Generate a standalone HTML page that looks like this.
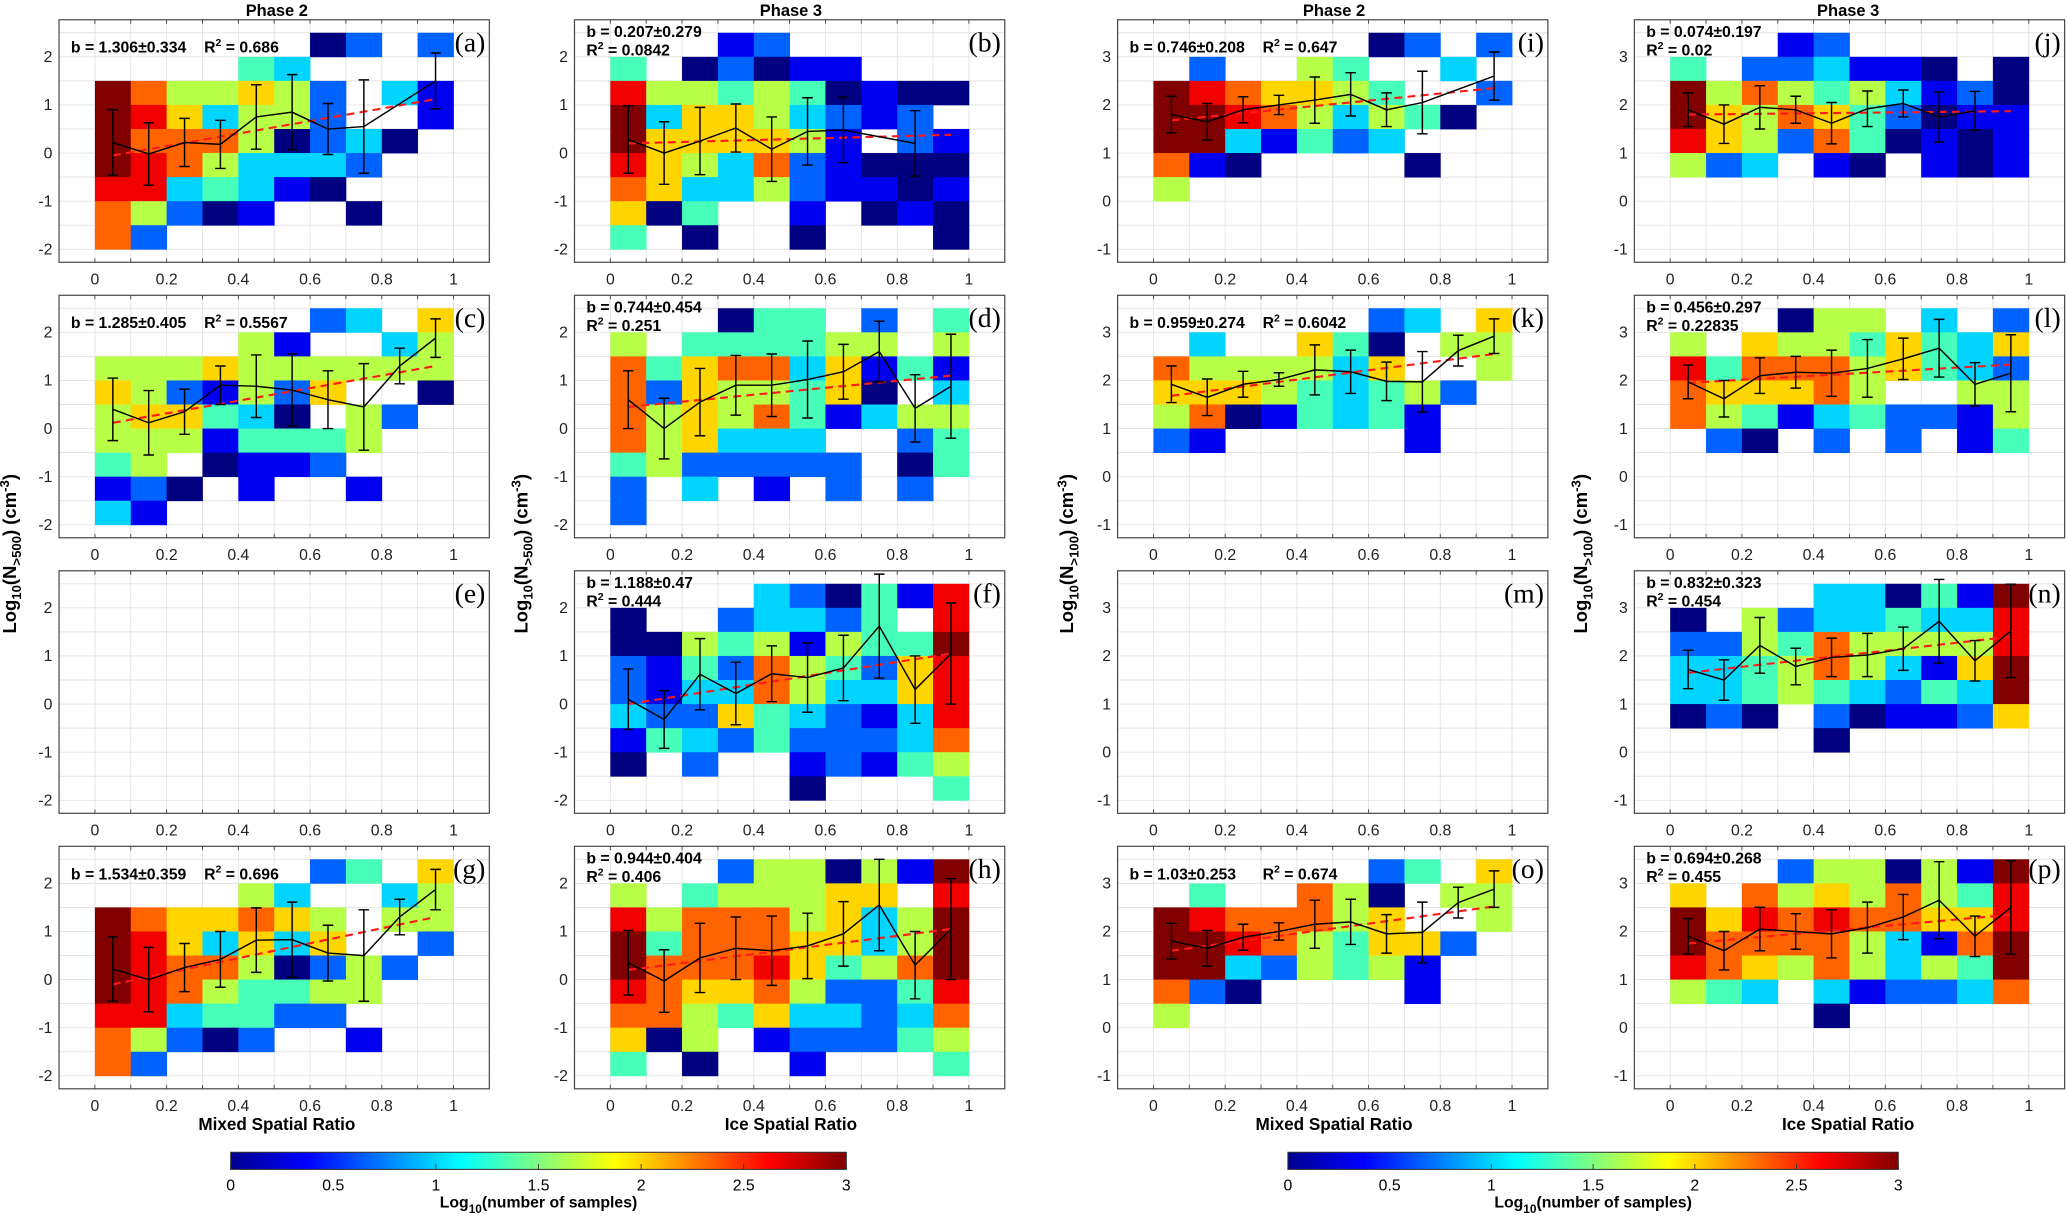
<!DOCTYPE html>
<html><head><meta charset="utf-8"><title>Heatmap panels</title>
<style>
html,body{margin:0;padding:0;background:#fff;}
svg{display:block;}
text{font-family:"Liberation Sans Narrow","Liberation Sans",sans-serif;}
</style></head>
<body>
<svg id="fig" width="2067" height="1217" viewBox="0 0 1568 923" xmlns="http://www.w3.org/2000/svg">
<defs>
<linearGradient id="jet" x1="0" x2="1" y1="0" y2="0">
<stop offset="0" stop-color="#00008f"/><stop offset="0.125" stop-color="#0000ff"/><stop offset="0.375" stop-color="#00ffff"/><stop offset="0.625" stop-color="#ffff00"/><stop offset="0.875" stop-color="#ff0000"/><stop offset="1" stop-color="#800000"/>
</linearGradient>
</defs>
</svg>
<script>
// ---- data: grids (top row first; digit d => log10 count = d/3; '.' = empty) ----
const xCenters=[0.05,0.15,0.25,0.35,0.45,0.55,0.65,0.75,0.85,0.95];
const yTicksLeft=[-2,-1,0,1,2];
const yTicksRight=[-1,0,1,2,3];
const xTicks=[0,0.2,0.4,0.6,0.8,1];
const cbTicks=[0,0.5,1,1.5,2,2.5,3];

const gridA=["......02.2","....43....","9755652.31","9863552..1","977750230.","98753332..","8834310...","75201..0..","72........"];
const meanA=[0.22,-0.02,0.22,0.18,0.75,0.85,0.5,0.55,null,1.5];
const errA=[0.68,0.65,0.5,0.5,0.67,0.78,0.53,0.97,null,0.58];
const fitA=[-0.05,1.12];

const gridB=["...12.....","4.02011...","8554540100","936653212.","9666651.21","8653721000","7633521101","604..1.010","4.0..0...0"];
const meanB=[0.28,0.0,0.25,0.52,0.08,0.45,0.48,null,0.2,null];
const errB=[0.7,0.65,0.7,0.5,0.67,0.7,0.68,null,0.68,null];
const fitB=[0.2,0.38];

const gridC=["......23.6","....51..35","5556555555","6521526..0","566430.52.","55514445..","45.0112...","120.1..1..","31........"];
const meanC=[0.4,0.12,0.35,0.9,0.88,0.8,0.6,0.45,1.3,1.88];
const errC=[0.65,0.67,0.47,0.4,0.65,0.75,0.6,0.9,0.37,0.4];
const fitC=[0.12,1.3];

const gridD=["...044.2.4","5.444455.5","7467736141","72655460.3","7565741355","756333..24","4522222.04","2.3.1.2.2.","2........."];
const meanD=[0.6,0.0,0.55,0.9,0.9,1.02,1.18,1.6,0.42,0.88];
const errD=[0.6,0.63,0.7,0.62,0.65,0.8,0.57,0.63,0.7,1.08];
const fitD=[0.45,1.1];

const gridF=["....320418","0..23324.8","0054515449","2142754268","2133753368","3226432138","1432422237","0.2..12145",".....0...4"];
const meanF=[0.1,-0.32,0.62,0.22,0.63,0.55,0.75,1.62,0.3,1.05];
const errF=[0.63,0.6,0.74,0.65,0.58,0.72,0.68,1.08,0.7,1.05];
const fitF=[0.0,1.05];

const gridG=["......24.6","....53..35","9766765.55","9863636..2","987750252.","98754455..","8834422...","75202..1..","72........"];
const meanG=[0.22,0.0,0.25,0.42,0.82,0.83,0.55,0.5,1.3,1.87];
const errG=[0.67,0.67,0.5,0.58,0.67,0.78,0.58,0.95,0.37,0.42];
const fitG=[-0.1,1.3];

const gridH=["...2550519","5.455566.8","8577756359","9477766359","9777864579","8766752248","7754633237","605.122245","4.0..1...4"];
const meanH=[0.35,-0.03,0.45,0.65,0.6,0.7,0.95,1.55,0.3,1.05];
const errH=[0.67,0.65,0.72,0.65,0.72,0.68,0.67,0.95,0.7,1.05];
const fitH=[0.2,1.05];

const gridI=["......02.2",".2..54..3.","9876654..2","998753540.","9931423...","710....0..","5........."];
const meanI=[1.8,1.65,1.9,2.0,2.1,2.22,1.9,2.05,null,2.6];
const errI=[0.38,0.38,0.27,0.2,0.48,0.45,0.35,0.65,null,0.5];
const fitI=[1.68,2.35];

const gridJ=["...12.....","4.223110.0","9575453120","9657642011","8652740101","523.10.101",".........."];
const meanJ=[1.9,1.6,1.95,1.9,1.62,1.92,2.03,1.75,1.88,null];
const errJ=[0.35,0.4,0.45,0.28,0.43,0.37,0.28,0.52,0.4,null];
const fitJ=[1.8,1.87];

const gridK=["......23.6",".3..640.55","7555536..5","666543452.","57014341..","21.....1..",".........."];
const meanK=[1.92,1.65,1.92,2.02,2.22,2.18,1.98,1.97,2.62,2.92];
const errK=[0.38,0.38,0.27,0.14,0.52,0.45,0.4,0.63,0.32,0.36];
const fitK=[1.68,2.55];

const gridL=["...055.3.2","5.65546436","8477756432","766675..55","7541342215",".20.2.2.14",".........."];
const meanL=[1.97,1.62,2.1,2.17,2.15,2.25,2.45,2.67,1.92,2.15];
const errL=[0.35,0.38,0.37,0.33,0.48,0.6,0.43,0.6,0.45,0.8];
const fitL=[1.95,2.33];

const gridN=["....330419","0.52334338","2254755558","3345753169","3345432439","020.201126","....0....."];
const meanN=[1.72,1.5,2.22,1.78,1.97,2.02,2.15,2.72,1.9,2.52];
const errN=[0.4,0.42,0.58,0.38,0.4,0.45,0.45,0.87,0.42,0.97];
const fitN=[1.65,2.4];

const gridO=["......24.6",".4..750.55","9877756..5","998754662.","99325451..","720....1..","5........."];
const meanO=[1.8,1.65,1.88,2.0,2.15,2.2,1.95,1.98,2.6,2.88];
const errO=[0.37,0.37,0.27,0.18,0.5,0.47,0.4,0.63,0.32,0.38];
const fitO=[1.6,2.52];

const gridP=["...2550519","6.75657548","9687877668","9777753179","8765753549","543.312237","....0....."];
const meanP=[1.9,1.6,2.05,2.0,1.95,2.08,2.3,2.65,1.9,2.5];
const errP=[0.37,0.4,0.45,0.37,0.5,0.53,0.47,0.8,0.42,0.97];
const fitP=[1.75,2.35];

const panels=[
 {id:'a',col:0,row:0,t:'L',g:gridA,m:meanA,e:errA,f:fitA,s1:'b = 1.306±0.334',s2:'0.686',two:false},
 {id:'b',col:1,row:0,t:'L',g:gridB,m:meanB,e:errB,f:fitB,s1:'b = 0.207±0.279',s2:'0.0842',two:true},
 {id:'c',col:0,row:1,t:'L',g:gridC,m:meanC,e:errC,f:fitC,s1:'b = 1.285±0.405',s2:'0.5567',two:false},
 {id:'d',col:1,row:1,t:'L',g:gridD,m:meanD,e:errD,f:fitD,s1:'b = 0.744±0.454',s2:'0.251',two:true},
 {id:'e',col:0,row:2,t:'L',g:null},
 {id:'f',col:1,row:2,t:'L',g:gridF,m:meanF,e:errF,f:fitF,s1:'b = 1.188±0.47',s2:'0.444',two:true},
 {id:'g',col:0,row:3,t:'L',g:gridG,m:meanG,e:errG,f:fitG,s1:'b = 1.534±0.359',s2:'0.696',two:false},
 {id:'h',col:1,row:3,t:'L',g:gridH,m:meanH,e:errH,f:fitH,s1:'b = 0.944±0.404',s2:'0.406',two:true},
 {id:'i',col:2,row:0,t:'R',g:gridI,m:meanI,e:errI,f:fitI,s1:'b = 0.746±0.208',s2:'0.647',two:false},
 {id:'j',col:3,row:0,t:'R',g:gridJ,m:meanJ,e:errJ,f:fitJ,s1:'b = 0.074±0.197',s2:'0.02',two:true},
 {id:'k',col:2,row:1,t:'R',g:gridK,m:meanK,e:errK,f:fitK,s1:'b = 0.959±0.274',s2:'0.6042',two:false},
 {id:'l',col:3,row:1,t:'R',g:gridL,m:meanL,e:errL,f:fitL,s1:'b = 0.456±0.297',s2:'0.22835',two:true},
 {id:'m',col:2,row:2,t:'R',g:null},
 {id:'n',col:3,row:2,t:'R',g:gridN,m:meanN,e:errN,f:fitN,s1:'b = 0.832±0.323',s2:'0.454',two:true},
 {id:'o',col:2,row:3,t:'R',g:gridO,m:meanO,e:errO,f:fitO,s1:'b = 1.03±0.253',s2:'0.674',two:false},
 {id:'p',col:3,row:3,t:'R',g:gridP,m:meanP,e:errP,f:fitP,s1:'b = 0.694±0.268',s2:'0.455',two:true}
];

// ---- layout ----
const NS='http://www.w3.org/2000/svg';
const svg=document.getElementById('fig');
const colX0=[72,463,875,1267], rowRef=[43,252,461,670];
const UX=272, UY=36.5;
function mk(tag,attrs,parent){const e=document.createElementNS(NS,tag);for(const k in attrs)e.setAttribute(k,attrs[k]);parent.appendChild(e);return e;}
function jet(v){const t=Math.max(0,Math.min(1,v/3));const c=x=>Math.round(255*Math.max(0,Math.min(1,1.5-Math.abs(4*t-x))));return `rgb(${c(3)},${c(2)},${c(1)})`;}

panels.forEach(p=>{
  const ref=p.t==='L'?2:3, lo=p.t==='L'?-2.27:-1.27, hi=lo+5.04;
  const X=v=>colX0[p.col]+v*UX;
  const Y=v=>rowRef[p.row]-(v-ref)*UY;
  const L=X(-0.1),R=X(1.1),T=Y(hi),B=Y(lo);
  const g=mk('g',{},svg);
  
  
  for(let i=0;i<=10;i++){const l=mk('line',{x1:X(i/10),x2:X(i/10),y1:T,y2:B,stroke:'#e3e3e3','stroke-width':0.7},g);
    
    }
  for(let v=Math.ceil(lo*2)/2;v<=hi;v+=0.5){const l=mk('line',{x1:L,x2:R,y1:Y(v),y2:Y(v),stroke:'#e3e3e3','stroke-width':0.7},g);
    
    }
  if(p.g){
    const topV=p.t==='L'?2.5:3.5;
    p.g.forEach((rowStr,ri)=>{
      for(let ci=0;ci<rowStr.length;ci++){
        const ch=rowStr[ci]; if(ch==='.')continue;
        const v=(+ch)/3;
        const r=mk('rect',{x:X(ci/10),y:Y(topV-ri*0.5),width:UX/10+0.3,height:UY/2+0.3,fill:jet(v)},g);
        
        
      }
    });
    const fl=mk('line',{x1:X(0.05),y1:Y(p.f[0]),x2:X(0.95),y2:Y(p.f[1]),stroke:'#ff1a1a','stroke-width':1.6,'stroke-dasharray':'6,4'},g);
    
    
    let d='';
    p.m.forEach((v,i)=>{if(v===null)return;d+=(d?'L':'M')+X(xCenters[i]).toFixed(1)+','+Y(v).toFixed(1);});
    const ml=mk('path',{d:d,fill:'none',stroke:'#000','stroke-width':1.1},g);
    
    
    p.m.forEach((v,i)=>{if(v===null)return;
      const x=X(xCenters[i]),e=p.e[i];
      const eb=mk('path',{d:`M${x},${Y(v-e)}L${x},${Y(v+e)}M${x-4},${Y(v-e)}L${x+4},${Y(v-e)}M${x-4},${Y(v+e)}L${x+4},${Y(v+e)}`,stroke:'#000','stroke-width':1.1,fill:'none'},g);
      
      });
    const t1=mk('text',{x:L+9,y:p.two?T+13:T+25,'font-size':12,'font-weight':'bold'},g);
    
    
    t1.textContent=p.s1;
    const t2=mk('text',{x:p.two?L+9:L+110,y:p.two?T+27:T+25,'font-size':12,'font-weight':'bold'},g);
    
    
    t2.innerHTML='R<tspan dy="-5" font-size="8">2</tspan><tspan dy="5"> = '+p.s2+'</tspan>';
  }
  const bx=mk('rect',{x:L,y:T,width:R-L,height:B-T,fill:'none',stroke:'#444','stroke-width':0.9},g);
  
  
  for(let i=0;i<=10;i++){const tk=mk('path',{d:`M${X(i/10)},${B}v-3M${X(i/10)},${T}v3`,stroke:'#444','stroke-width':0.7},g);
    
    }
  xTicks.forEach(v=>{const t=mk('text',{x:X(v),y:B+17,'font-size':12,'text-anchor':'middle',fill:'#222'},g);
    
    
    t.textContent=String(v);});
  (p.t==='L'?yTicksLeft:yTicksRight).forEach(v=>{const t=mk('text',{x:L-5,y:Y(v)+4,'font-size':12,'text-anchor':'end',fill:'#222'},g);
    
    
    t.textContent=String(v);});
  const pl=mk('text',{x:R-3,y:T+24,'font-size':21,'text-anchor':'end'},g);
  
  
  pl.setAttribute('style','font-family:"Liberation Serif",serif');
  pl.textContent='('+p.id+')';
});

[['Phase 2',210],['Phase 3',600],['Phase 2',1012],['Phase 3',1402]].forEach(a=>{
  const t=mk('text',{x:a[1],y:12,'font-size':12.5,'font-weight':'bold','text-anchor':'middle'},svg);
  
  
  t.textContent=a[0];});
[['Mixed Spatial Ratio',210],['Ice Spatial Ratio',600],['Mixed Spatial Ratio',1012],['Ice Spatial Ratio',1402]].forEach(a=>{
  const t=mk('text',{x:a[1],y:857,'font-size':13,'font-weight':'bold','text-anchor':'middle'},svg);
  
  
  t.textContent=a[0];});
[[12,'>500'],[400,'>500'],[814,'>100'],[1204,'>100']].forEach(a=>{
  const t=mk('text',{x:0,y:0,'font-size':14,'font-weight':'bold','text-anchor':'middle',transform:`translate(${a[0]},420) rotate(-90)`,style:'font-family:"Liberation Sans",sans-serif'},svg);
  
  
  t.innerHTML='Log<tspan dy="4" font-size="10">10</tspan><tspan dy="-4">(N</tspan><tspan dy="4" font-size="10">'+a[1]+'</tspan><tspan dy="-4">) (cm</tspan><tspan dy="-5" font-size="10">-3</tspan><tspan dy="5">)</tspan>';});

[[175,642],[977,1440]].forEach(c=>{
  const g=mk('g',{},svg);
  
  
  const r=mk('rect',{x:c[0],y:874,width:c[1]-c[0],height:13,fill:'url(#jet)',stroke:'#333','stroke-width':0.8},g);
  
  
  cbTicks.forEach(v=>{const x=c[0]+(c[1]-c[0])*v/3;
    const tk=mk('line',{x1:x,x2:x,y1:887,y2:883,stroke:'#333','stroke-width':0.7},g);
    
    
    const t=mk('text',{x:x,y:903,'font-size':12,'text-anchor':'middle'},g);
    
    
    t.textContent=String(v);});
  const tt=mk('text',{x:(c[0]+c[1])/2,y:916,'font-size':12,'font-weight':'bold','text-anchor':'middle'},g);
  
  
  tt.innerHTML='Log<tspan dy="4" font-size="9">10</tspan><tspan dy="-4">(number of samples)</tspan>';
});
</script>
</body></html>
